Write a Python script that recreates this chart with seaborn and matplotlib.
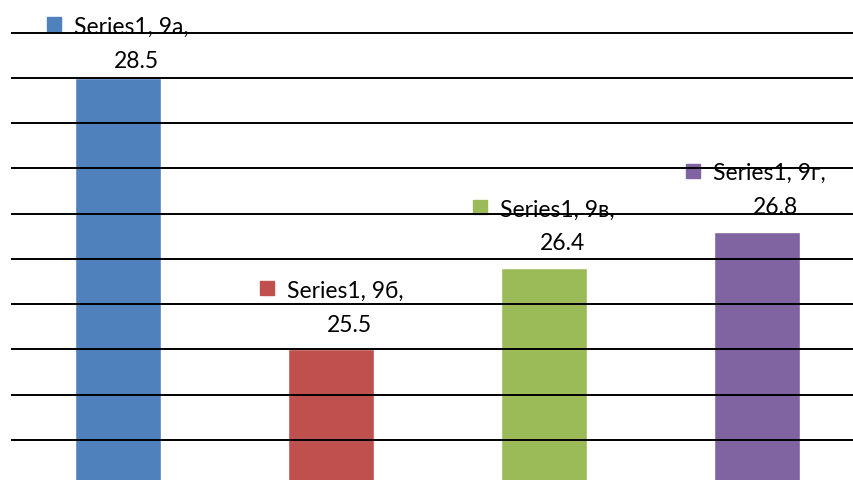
import matplotlib
matplotlib.use("Agg")
import matplotlib.pyplot as plt
from matplotlib.ticker import MultipleLocator
import seaborn as sns
import numpy as np

classes = ["9а", "9б", "9в", "9г"]
values = [28.5, 25.5, 26.4, 26.8]
series_name = "Series1"
colors = ["#4F81BD", "#C0504D", "#9BBB59", "#8064A2"]

sns.set_theme(style="white")
plt.rcParams["font.family"] = ["Lato", "Open Sans", "DejaVu Sans"]

W, H = 854, 480
fig = plt.figure(figsize=(W / 100, H / 100), dpi=100)
# axes in pixel terms: x 11.5..863.5, y(24)=485px, y(29.5)=-12.56px from top
left_px, right_px = 11.5, 863.5
top_px, bot_px = -12.56, 485.0
ax = fig.add_axes([left_px / W, 1 - bot_px / H, (right_px - left_px) / W, (bot_px - top_px) / H])

sns.barplot(x=classes, y=values, hue=classes, palette=colors, legend=False,
            width=0.404, saturation=1, ax=ax, zorder=2)

ax.set_ylim(24, 29.5)
ax.set_xlim(-0.5, 3.5)
ax.yaxis.set_major_locator(MultipleLocator(0.5))
ax.grid(axis="y", color="black", linewidth=1.4, zorder=1)
ax.set_axisbelow(False)
for gl in ax.get_ygridlines():
    gl.set_zorder(1)
for s in ax.spines.values():
    s.set_visible(False)
ax.tick_params(left=False, bottom=False, labelleft=False, labelbottom=False)
ax.set_xlabel("")
ax.set_ylabel("")

fig.canvas.draw()
fs = 16.5
for i, (c, v) in enumerate(zip(classes, values)):
    # bar top in display pixels from top of figure
    disp = ax.transData.transform((i, v))
    bar_top_from_top = H - disp[1]
    marker_top = bar_top_from_top - 61 - 7.5
    shift = max(0.0, 16.7 - marker_top)
    dy = -shift
    ax.annotate("", xy=(i, v), xytext=(-63.5, 61 + dy), textcoords="offset pixels",
                zorder=0.5)
    ax.plot([i], [v], marker="s", markersize=10.5, color=colors[i], linestyle="none",
            zorder=0.5, clip_on=False,
            transform=ax.transData + matplotlib.transforms.ScaledTranslation(-63.5 / 100, (61 + dy) / 100, fig.dpi_scale_trans))
    ax.annotate(f"{series_name}, {c},", xy=(i, v), xytext=(-43.5, 51.5 + dy),
                textcoords="offset pixels", ha="left", va="baseline",
                fontsize=fs, color="black", zorder=0.5, annotation_clip=False)
    ax.annotate(f"{v}", xy=(i, v), xytext=(18.5, 17.5 + dy),
                textcoords="offset pixels", ha="center", va="baseline",
                fontsize=fs, color="black", zorder=0.5, annotation_clip=False)

fig.savefig("out.png", dpi=100)
